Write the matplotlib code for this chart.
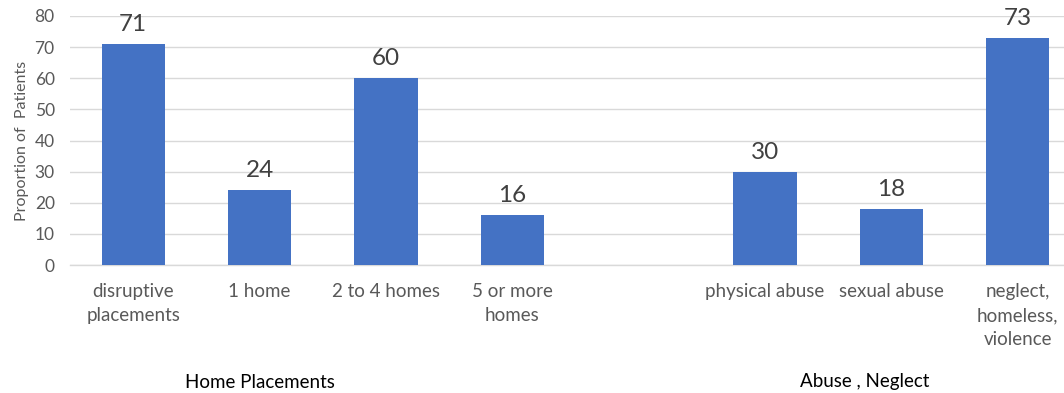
import matplotlib
matplotlib.use("Agg")
import matplotlib.pyplot as plt

categories = ["disruptive\nplacements", "1 home", "2 to 4 homes", "5 or more\nhomes", "",
              "physical abuse", "sexual abuse", "neglect,\nhomeless,\nviolence"]
values = [71, 24, 60, 16, None, 30, 18, 73]
group_labels = ["Home Placements", "Abuse , Neglect"]
group_pos = [1.0, 5.79]
yticks = [0, 10, 20, 30, 40, 50, 60, 70, 80]

plt.rcParams['font.family'] = ['Lato', 'DejaVu Sans']

W, H = 1064, 393
fig = plt.figure(figsize=(W / 100, H / 100), dpi=100)
left_px, right_px, top_px, bottom_px = 70, 1081, 16, 265
ax = fig.add_axes([left_px / W, 1 - bottom_px / H, (right_px - left_px) / W, (bottom_px - top_px) / H])

xs = [i for i, v in enumerate(values) if v is not None]
vs = [v for v in values if v is not None]
bars = ax.bar(xs, vs, width=0.5, color="#4472C4", zorder=3)
for x, v in zip(xs, vs):
    ax.annotate(f"{v}", (x, v), xytext=(0, 6.5), textcoords="offset points",
                ha="center", va="bottom", fontsize=17.5, color="#404040")

ax.set_xlim(-0.5, len(categories) - 0.5)
ax.set_ylim(0, 80)
ax.set_yticks(yticks)
ax.set_xticks(range(len(categories)))
ax.set_xticklabels(categories, fontsize=13.5, color="#595959", linespacing=1.5)
ax.tick_params(axis='both', length=0)
ax.tick_params(axis='x', pad=13)
ax.tick_params(axis='y', labelsize=12.5, labelcolor="#595959", pad=11)
for lbl in ax.get_yticklabels():
    lbl.set_horizontalalignment('right')
ax.grid(axis='y', color="#D9D9D9", linewidth=1, zorder=0)
for s in ["top", "right", "left"]:
    ax.spines[s].set_visible(False)
ax.spines["bottom"].set_color("#D9D9D9")
ax.spines["bottom"].set_linewidth(1)

ax.set_ylabel("Proportion of  Patients", fontsize=11.5, color="#595959")
ax.yaxis.set_label_coords((22 - left_px) / (right_px - left_px), 0.5)
ax.yaxis.label.set_verticalalignment('center')

for lab, gx in zip(group_labels, group_pos):
    xf = ax.transData.transform((gx, 0))[0] / W
    fig.text(xf, 1 - 382 / H, lab, ha="center", va="center", fontsize=13.5, color="#000000")

fig.savefig("out.png", dpi=100)
